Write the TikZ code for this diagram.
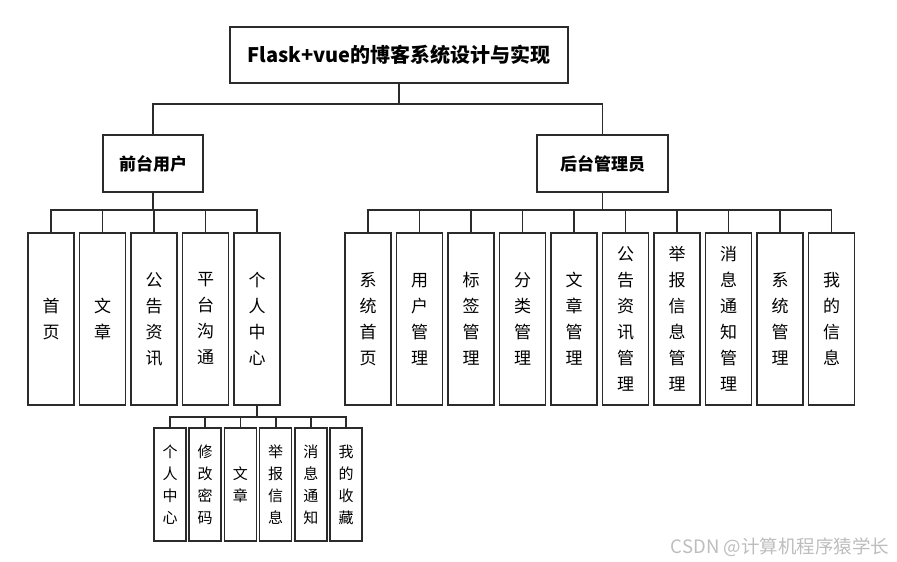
\documentclass[tikz,border=0pt]{standalone}
\usepackage{fontspec}
\setmainfont{Noto Sans CJK SC}
\usetikzlibrary{positioning}
\definecolor{boxline}{HTML}{2B2B2B}
\definecolor{markgray}{HTML}{BDBDBD}

\begin{document}
\begin{tikzpicture}[x=1pt,y=-1pt,
    box/.style={draw=boxline,line width=1.5pt,fill=white,inner sep=0pt,align=center},
    headbox/.style={box,font=\fontsize{17}{17}\selectfont\bfseries},
    leafbox/.style={box,minimum width=46pt,minimum height=172pt,font=\fontsize{17}{26}\selectfont},
    subbox/.style={box,minimum width=32pt,minimum height=113pt,font=\fontsize{15}{22}\selectfont},
    link/.style={draw=boxline,line width=1.8pt}]
  \useasboundingbox (0,0) rectangle (897,562);
  % Raiz
  \node[headbox,minimum width=338pt,minimum height=56pt,font=\fontsize{20}{20}\selectfont\bfseries]
    (root) at (399,55) {Flask+vue的博客系统设计与实现};
  % Segundo nivel
  \node[headbox,minimum width=100pt,minimum height=57pt] (front) at (153,163.5) {前台用户};
  \node[headbox,minimum width=131pt,minimum height=57pt] (back) at (602.5,163.5) {后台管理员};
  \draw[link] (root.south) -- ++(0,20) -| (front.north);
  \draw[link] (root.south) -- ++(0,20) -| (back.north);
  % Hojas del front
  \foreach \i/\t in {1/{首\\页},2/{文\\章},3/{公\\告\\资\\讯},4/{平\\台\\沟\\通},5/{个\\人\\中\\心}}{
    \pgfmathsetmacro{\xx}{51+51.5*(\i-1)}
    \node[leafbox] (f\i) at (\xx,319) {\t};
    \draw[link] (front.south) -- ++(0,17) -| (f\i.north);}
  % Hojas del back
  \foreach \i/\t in {1/{系\\统\\首\\页},2/{用\\户\\管\\理},3/{标\\签\\管\\理},4/{分\\类\\管\\理},
      5/{文\\章\\管\\理},6/{公\\告\\资\\讯\\管\\理},7/{举\\报\\信\\息\\管\\理},
      8/{消\\息\\通\\知\\管\\理},9/{系\\统\\管\\理},10/{我\\的\\信\\息}}{
    \pgfmathsetmacro{\xx}{368+51.5*(\i-1)}
    \node[leafbox] (b\i) at (\xx,319) {\t};
    \draw[link] (back.south) -- ++(0,17) -| (b\i.north);}
  % Personal
  \foreach \i/\t in {1/{个\\人\\中\\心},2/{修\\改\\密\\码},3/{文\\章},4/{举\\报\\信\\息},
      5/{消\\息\\通\\知},6/{我\\的\\收\\藏}}{
    \pgfmathsetmacro{\xx}{170+35.2*(\i-1)}
    \node[subbox] (s\i) at (\xx,484.5) {\t};
    \draw[link] (f5.south) -- ++(0,11) -| (s\i.north);}
  \node[text=markgray,font=\fontsize{18.5}{18.5}\selectfont] (mark) at (780,547) {CSDN @计算机程序猿学长};
\end{tikzpicture}
\end{document}
